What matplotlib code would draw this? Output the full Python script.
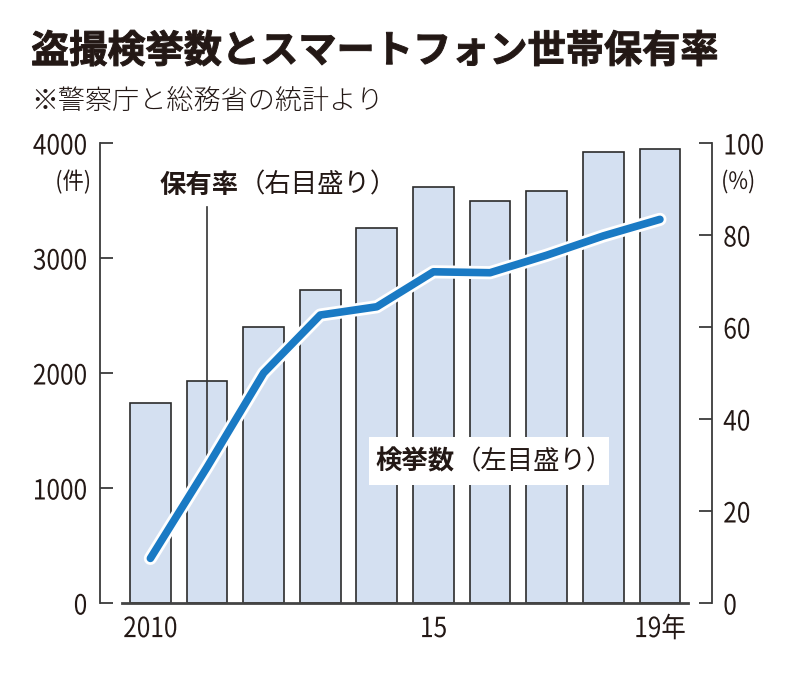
import matplotlib
matplotlib.use("Agg")
import matplotlib.pyplot as plt
import matplotlib.patheffects as pe
from matplotlib.patches import Rectangle
from matplotlib.transforms import Affine2D

plt.rcParams["font.family"] = ["Noto Sans CJK JP", "DejaVu Sans"]

# data
years = [2010, 2011, 2012, 2013, 2014, 2015, 2016, 2017, 2018, 2019]
arrests = [1740, 1930, 2400, 2720, 3260, 3620, 3500, 3580, 3920, 3950]  # 検挙数 (件)
ownership = [9.7, 29.5, 50.0, 62.6, 64.4, 72.0, 71.8, 75.6, 79.8, 83.4]  # 保有率 (%)
xtick_years = [2010, 2015, 2019]
xtick_labels = ["2010", "15", "19年"]
left_ticks = [0, 1000, 2000, 3000, 4000]
right_ticks = [0, 20, 40, 60, 80, 100]

ink = "#231815"
axis_col = "#3a3a3a"
bar_col = "#d4e0f1"
line_col = "#1a7ac4"


class Squeeze(pe.AbstractPathEffect):
    """narrow the glyphs horizontally (the digits in the original are condensed)"""

    def __init__(self, sx, anchor="left", lw=0.0):
        super().__init__()
        self.sx, self.anchor, self.lw = sx, anchor, lw

    def draw_path(self, renderer, gc, tpath, affine, rgbFace=None):
        ext = tpath.get_extents()
        x0 = {"left": ext.x0, "center": 0.5 * (ext.x0 + ext.x1), "right": ext.x1}[self.anchor]
        sq = Affine2D().translate(-x0, 0).scale(self.sx, 1).translate(x0, 0)
        gc0 = renderer.new_gc()
        gc0.copy_properties(gc)
        if self.lw:
            gc0.set_linewidth(self.lw)
            gc0.set_foreground(rgbFace)
        renderer.draw_path(gc0, tpath, sq + affine, rgbFace)
        gc0.restore()


W, H = 800, 680
fig = plt.figure(figsize=(8, 6.8), dpi=100)
fig.patch.set_facecolor("white")

ax = fig.add_axes([100 / W, 77 / H, 612 / W, 460 / H])
ax.bar(years, arrests, width=0.72, color=bar_col, edgecolor="#2b2b2b", linewidth=1.2, zorder=2)
ax.set_xlim(2009.11, 2019.92)
ax.set_ylim(0, 4000)
for s in ["top", "right", "bottom"]:
    ax.spines[s].set_visible(False)
ax.spines["left"].set_color(axis_col)
ax.spines["left"].set_linewidth(1.3)
# baseline does not touch the two vertical axes
ax.axhline(0, xmin=0.036, xmax=0.961, color="#444444", lw=2, zorder=3, clip_on=False)

ax.set_yticks(left_ticks)
ax.tick_params(axis="y", direction="in", length=9.5, width=1.3, pad=9,
               labelsize=20, color=axis_col, labelcolor=ink)
ax.set_xticks(xtick_years)
ax.set_xticklabels(xtick_labels)
ax.tick_params(axis="x", length=0, pad=8, labelsize=20, labelcolor=ink)

# leader line for the ownership label
ax.plot([2011, 2011], [3440, 1250], color="#333333", lw=1.2, zorder=3)

ax2 = ax.twinx()
ax2.set_ylim(0, 100)
for s in ["top", "left", "bottom"]:
    ax2.spines[s].set_visible(False)
ax2.spines["right"].set_color(axis_col)
ax2.spines["right"].set_linewidth(1.3)
ax2.set_yticks(right_ticks)
ax2.tick_params(axis="y", direction="in", length=9.5, width=1.3, pad=8,
                labelsize=20, color=axis_col, labelcolor=ink)
ax2.plot(years, ownership, color=line_col, lw=5.5, solid_capstyle="round",
         solid_joinstyle="round", zorder=5,
         path_effects=[pe.Stroke(linewidth=9.5, foreground="white", capstyle="round",
                                 joinstyle="round"), pe.Normal()])

for lbl in ax.get_yticklabels():
    lbl.set_path_effects([Squeeze(0.88, "right")])
for lbl in ax.get_xticklabels():
    lbl.set_path_effects([Squeeze(0.88, "center")])
for lbl in ax2.get_yticklabels():
    lbl.set_path_effects([Squeeze(0.88, "left")])

# labels in the plot
t1 = ax.text(2010.17, 3635, "保有率", fontsize=19, fontweight="bold", color=ink,
             ha="left", va="center", zorder=6)
ax.annotate("（右目盛り）", xy=(1, 0.5), xycoords=t1, ha="left", va="center",
            fontsize=19, color=ink, zorder=6)

# white plate behind the arrests label
ax.add_patch(Rectangle((2013.86, 1026), 4.24, 417, facecolor="white",
                       edgecolor="none", zorder=5.5))
t2 = ax.text(2013.97, 1226, "検挙数", fontsize=19, fontweight="bold", color=ink,
             ha="left", va="center", zorder=6)
ax.annotate("（左目盛り）", xy=(1, 0.5), xycoords=t2, ha="left", va="center",
            fontsize=19, color=ink, zorder=6)

# units
fig.text(91 / W, 1 - 182 / H, "(件)", fontsize=17, color=ink, ha="right", va="center",
         path_effects=[Squeeze(0.9, "right")])
fig.text(721 / W, 1 - 182 / H, "(%)", fontsize=17, color=ink, ha="left", va="center",
         path_effects=[Squeeze(0.9, "left")])

# title
fig.text(31 / W, 1 - 51 / H, "盗撮検挙数とスマートフォン世帯保有率", fontsize=27.5,
         fontweight="bold", color=ink, ha="left", va="center",
         path_effects=[Squeeze(1.0, "left", lw=0.7)])
fig.text(31 / W, 1 - 101 / H, "※警察庁と総務省の統計より", fontsize=19.5,
         fontweight="light", color=ink, ha="left", va="center")

fig.savefig("out.png", dpi=100, facecolor="white")
